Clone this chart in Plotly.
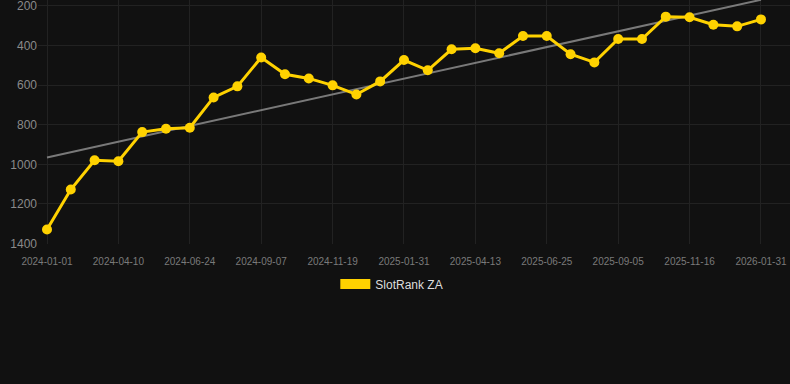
import numpy as np
import plotly.graph_objects as go

dates = [
    "2024-01-01", "2024-02-03", "2024-03-08", "2024-04-10", "2024-05-05", "2024-05-30",
    "2024-06-24", "2024-07-19", "2024-08-13", "2024-09-07", "2024-10-01", "2024-10-25",
    "2024-11-19", "2024-12-13", "2025-01-06", "2025-01-31", "2025-02-24", "2025-03-20",
    "2025-04-13", "2025-05-07", "2025-06-01", "2025-06-25", "2025-07-19", "2025-08-12",
    "2025-09-05", "2025-09-29", "2025-10-23", "2025-11-16", "2025-12-11", "2026-01-06",
    "2026-01-31",
]
rank = [
    1329, 1127, 979, 984, 837, 820, 815, 662, 606, 460,
    545, 566, 601, 647, 581, 473, 525, 419, 414, 439,
    352, 352, 444, 485, 367, 367, 254, 257, 295, 303,
    268,
]
tick_labels = dates[::3]
y_ticks = [200, 400, 600, 800, 1000, 1200, 1400]
series_name = "SlotRank ZA"

idx = np.arange(len(rank))
slope, intercept = np.polyfit(idx, rank, 1)
trend = (slope * idx + intercept).tolist()

GOLD = "#FFD200"
BG = "#111111"

fig = go.Figure()
fig.add_trace(go.Scatter(
    x=dates, y=trend, mode="lines",
    line=dict(color="rgba(140,140,140,0.85)", width=2),
    showlegend=False, hoverinfo="skip",
))
fig.add_trace(go.Scatter(
    x=dates, y=rank, mode="lines+markers",
    line=dict(color=GOLD, width=3),
    marker=dict(color=GOLD, size=10),
    showlegend=False, name=series_name,
))
fig.add_trace(go.Scatter(
    x=[None], y=[None], mode="lines",
    line=dict(color=GOLD, width=11),
    name=series_name, showlegend=True,
))

fig.update_layout(
    width=790, height=384,
    paper_bgcolor=BG, plot_bgcolor=BG,
    margin=dict(l=38, r=0, t=0, b=140, autoexpand=False),
    font=dict(family="Liberation Sans, Arial, sans-serif", color="#888888"),
    legend=dict(
        orientation="h", x=0.4705, xanchor="center",
        y=-0.105, yanchor="top",
        font=dict(size=12, color="#dddddd"), bgcolor="rgba(0,0,0,0)",
    ),
    xaxis=dict(
        type="category",
        range=[-0.378, 31.22],
        tickmode="array", tickvals=tick_labels, ticktext=tick_labels,
        tickfont=dict(size=10, color="#7a7a7a"), tickangle=0,
        ticklabelstandoff=10, ticklabeloverflow="allow",
        showgrid=True, gridcolor="#222222", gridwidth=1,
        zeroline=False, showline=False, ticks="", automargin=False,
    ),
    yaxis=dict(
        range=[1402, 170],
        tickmode="array", tickvals=y_ticks,
        tickfont=dict(size=12, color="#8a8a8a"),
        ticklabeloverflow="allow",
        showgrid=True, gridcolor="#222222", gridwidth=1,
        zeroline=False, showline=False, ticks="", automargin=False,
    ),
)

fig.write_html(
    "out.html",
    config={"displayModeBar": False},
    post_script="document.body.style.margin='0';document.body.style.background='#111111';",
)
